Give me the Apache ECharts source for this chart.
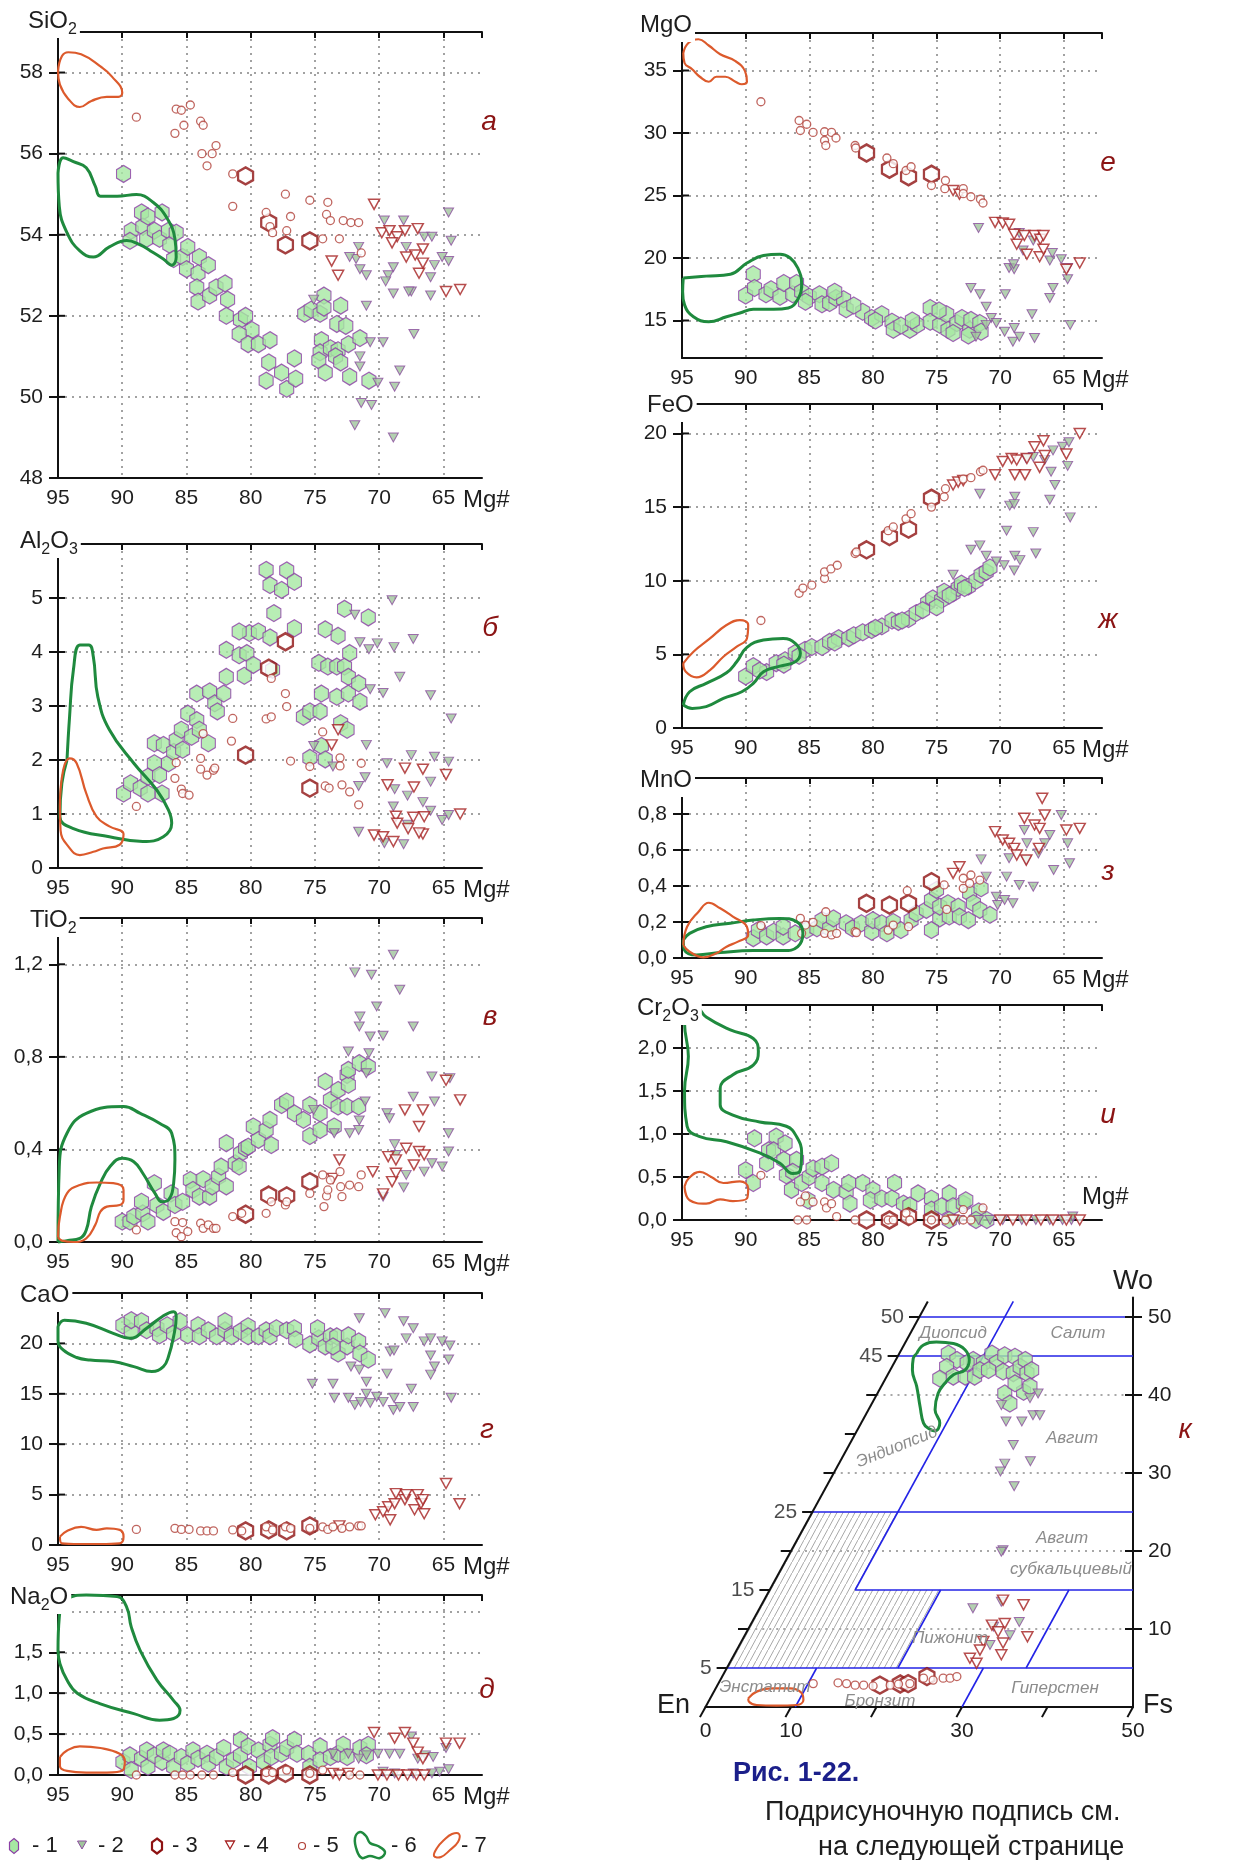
<!DOCTYPE html>
<html>
<head>
<meta charset="utf-8">
<script src="https://cdn.jsdelivr.net/npm/echarts@6/dist/echarts.min.js"></script>
<style>html,body{margin:0;padding:0;background:#fff}#c{width:1247px;height:1860px}</style>
</head>
<body>
<div id="c"></div>
<script>
// ---- Clinopyroxene compositions vs Mg#, groups 1-5, fields 6-7 ----
const sio2_1=[[89.9,55.5],[89.3,54.1],[89.4,53.85],[88.5,54.55],[88.4,54.2],[88.0,54.45],[88.1,53.9],[87.5,54.1],[86.9,54.55],[87.1,53.9],[86.4,54.1],[86.3,53.75],[85.8,54.05],[86.0,53.4],[85.3,53.45],[84.9,53.7],[85.0,53.15],[84.0,53.45],[84.1,53.05],[83.3,53.25],[84.2,52.7],[84.1,52.35],[83.2,52.5],[82.7,52.7],[82.0,52.8],[81.8,52.4],[81.9,52.0],[80.8,51.9],[80.4,52.0],[79.9,51.65],[80.9,51.55],[80.2,51.3],[79.4,51.3],[78.5,51.4],[78.6,50.85],[78.8,50.4],[77.6,50.6],[77.2,50.2],[76.6,50.95],[76.5,50.45],[75.8,52.05],[75.3,52.15],[74.6,52.05],[74.3,52.5],[74.3,52.2],[73.0,52.25],[73.3,51.8],[72.6,51.75],[74.5,51.4],[74.6,51.1],[73.8,51.2],[73.2,51.15],[72.4,51.3],[71.5,51.45],[74.7,50.9],[73.4,51.0],[73.0,50.85],[74.2,50.6],[72.3,50.5],[70.8,50.4]];
const sio2_2=[[69.6,54.35],[68.1,54.35],[67.9,53.7],[66.5,53.95],[65.9,53.95],[64.6,54.55],[64.4,53.85],[64.6,53.35],[65.1,53.45],[65.7,53.25],[66.0,52.95],[66.0,52.5],[67.5,52.6],[67.7,52.6],[68.9,52.55],[68.9,53.2],[69.3,53.0],[69.5,52.85],[71.6,53.7],[71.8,53.4],[72.3,53.45],[71.0,53.0],[71.5,53.15],[71.0,52.25],[67.3,51.55],[69.7,51.35],[70.7,51.35],[68.4,50.65],[68.8,50.25],[70.1,50.35],[71.5,51.0],[71.5,50.75],[71.4,49.85],[70.6,49.8],[71.9,49.3],[68.9,49.0],[75.1,52.4]];
const sio2_3=[[80.4,55.45],[78.6,54.3],[77.3,53.75],[75.4,53.85]];
const sio2_4=[[70.4,54.75],[69.8,54.05],[69.2,54.1],[68.6,53.95],[69.0,53.8],[68.0,54.1],[67.0,54.15],[66.6,53.65],[67.2,53.5],[67.9,53.45],[66.9,53.05],[66.6,53.3],[64.8,52.6],[63.7,52.65],[73.7,53.35],[73.2,53.0]];
const sio2_5=[[88.9,56.9],[85.8,57.1],[85.4,57.07],[84.7,57.2],[85.2,56.7],[85.9,56.5],[83.9,56.8],[83.7,56.7],[82.7,56.2],[83.0,56.0],[83.8,56.0],[83.4,55.7],[81.4,55.5],[81.4,54.7],[78.8,54.55],[78.5,54.2],[78.3,54.05],[77.3,55.0],[76.9,54.45],[77.2,54.1],[75.4,54.85],[74.0,54.8],[74.1,54.5],[73.8,54.35],[74.4,53.9],[72.8,54.35],[72.2,54.3],[71.6,54.3],[71.4,53.55],[73.1,53.9]];
const sio2_6=[[95.0,55.52],[94.6,55.9],[93.8,55.8],[92.8,55.65],[92.1,55.2],[91.7,54.95],[90.4,54.95],[88.9,54.99],[87.6,54.8],[86.5,54.4],[85.9,53.9],[85.8,53.45],[86.15,53.25],[86.8,53.4],[87.8,53.6],[88.6,53.75],[89.65,53.86],[91.0,53.7],[92.25,53.45],[93.3,53.6],[94.3,54.05],[94.9,54.7]];
const sio2_7=[[95.0,58.03],[94.7,58.4],[94.2,58.5],[93.2,58.45],[91.7,58.15],[90.8,57.9],[90.0,57.5],[90.3,57.4],[91.2,57.4],[92.4,57.3],[93.3,57.15],[94.2,57.35],[94.85,57.7]];

const al2o3_1=[[89.9,1.38],[89.35,1.57],[88.6,1.48],[88.0,1.69],[87.5,1.94],[87.5,2.31],[86.8,2.28],[87.1,1.72],[86.9,1.38],[88.0,1.38],[86.4,1.94],[86.0,2.15],[85.8,2.37],[85.4,2.56],[85.3,2.19],[84.9,2.86],[84.6,2.43],[84.2,2.74],[84.0,2.56],[84.2,3.23],[83.3,2.31],[83.2,3.27],[82.8,3.05],[82.6,2.9],[82.1,3.23],[81.9,3.54],[81.9,4.04],[80.9,3.94],[80.3,3.98],[80.5,3.56],[79.8,3.76],[80.1,4.35],[80.9,4.38],[79.4,4.38],[78.5,4.27],[78.3,3.67],[78.2,4.72],[78.8,5.52],[78.5,5.24],[77.6,5.15],[77.2,5.51],[76.6,5.3],[76.6,4.44],[75.9,2.8],[75.4,2.9],[74.6,2.9],[74.5,3.23],[74.7,3.8],[74.2,4.42],[74.0,3.73],[73.2,4.3],[73.3,3.73],[72.7,3.73],[73.3,3.17],[72.4,3.54],[72.3,3.98],[72.4,3.23],[71.6,3.42],[71.5,3.08],[72.7,4.8],[70.85,4.64],[73.0,2.68],[72.5,2.56],[74.5,2.26],[74.2,2.01],[75.4,2.04]];
const al2o3_2=[[69.0,4.96],[71.9,4.69],[71.5,4.18],[70.8,4.05],[70.15,4.16],[68.85,4.09],[67.35,4.24],[68.4,3.54],[70.7,3.31],[69.7,3.24],[66.0,3.2],[64.4,2.77],[71.0,2.28],[73.6,1.88],[71.1,1.68],[69.4,1.94],[67.5,2.09],[65.7,2.06],[64.6,1.97],[66.0,1.6],[67.8,1.34],[66.6,1.22],[66.0,1.06],[65.1,0.89],[64.6,0.98],[68.9,1.14],[68.8,1.46],[71.6,0.67],[69.6,0.46],[68.1,0.44],[67.8,0.8],[71.6,1.52],[75.1,2.26]];
const al2o3_3=[[78.6,3.7],[77.3,4.19],[80.4,2.09],[75.4,1.48]];
const al2o3_4=[[73.2,2.56],[73.7,2.28],[69.35,1.54],[68.0,1.85],[66.6,1.83],[64.8,1.73],[63.7,1.0],[67.3,1.5],[68.7,0.96],[68.6,0.83],[70.4,0.61],[69.7,0.58],[68.9,0.49],[67.35,0.94],[66.6,0.63],[66.5,0.95],[67.75,0.73],[66.9,0.65]];
const al2o3_5=[[88.9,1.14],[85.9,1.66],[85.8,1.95],[85.4,1.46],[85.3,1.38],[84.8,1.35],[83.9,2.03],[83.9,1.83],[83.4,1.72],[82.9,1.81],[82.8,1.85],[83.7,2.49],[81.4,2.77],[81.5,2.35],[78.8,2.76],[78.4,2.8],[78.4,3.51],[77.3,3.23],[77.2,2.99],[76.9,1.98],[75.4,1.88],[74.4,2.52],[74.2,1.52],[73.9,1.48],[73.05,2.04],[73.05,1.89],[72.9,1.54],[72.3,1.41],[71.4,1.94],[71.6,1.17]];
const al2o3_6=[[94.3,2.0],[94.1,2.8],[93.8,3.67],[93.3,4.13],[92.6,4.13],[92.25,3.91],[91.9,3.17],[91.0,2.56],[89.1,1.94],[87.3,1.44],[86.4,1.07],[86.15,0.83],[86.8,0.58],[88.4,0.49],[91.0,0.58],[93.8,0.73],[94.85,0.95],[94.7,1.57]];
const al2o3_7=[[94.85,1.14],[94.6,1.81],[94.1,2.03],[93.55,1.94],[92.8,1.38],[92.0,0.95],[91.0,0.77],[89.9,0.63],[90.2,0.43],[91.5,0.36],[92.25,0.3],[93.3,0.24],[94.2,0.4],[94.8,0.7]];

const tio2_1=[[90.0,0.088],[89.4,0.088],[89.1,0.11],[88.4,0.124],[88.5,0.174],[88.0,0.088],[87.5,0.254],[87.3,0.16],[86.8,0.13],[86.2,0.21],[85.9,0.16],[85.3,0.174],[84.7,0.268],[84.5,0.225],[84.0,0.196],[83.7,0.271],[83.2,0.196],[83.0,0.24],[82.5,0.283],[82.3,0.326],[81.9,0.24],[81.9,0.427],[81.2,0.34],[80.8,0.383],[80.9,0.326],[80.4,0.405],[80.2,0.412],[79.8,0.499],[79.4,0.441],[78.8,0.484],[78.5,0.528],[78.4,0.419],[77.6,0.592],[77.2,0.607],[76.6,0.556],[75.9,0.528],[75.4,0.458],[75.4,0.592],[74.6,0.556],[74.6,0.484],[74.2,0.693],[73.8,0.614],[73.2,0.657],[73.2,0.585],[72.5,0.722],[72.4,0.679],[72.4,0.744],[72.5,0.585],[71.55,0.773],[71.6,0.585],[70.85,0.758],[73.5,0.499]];
const tio2_2=[[68.9,1.241],[71.9,1.165],[70.6,1.155],[68.4,1.09],[70.2,1.018],[71.5,0.974],[71.55,0.931],[67.35,0.931],[70.7,0.888],[69.7,0.891],[70.8,0.816],[72.4,0.823],[71.0,0.729],[65.9,0.715],[64.5,0.708],[67.35,0.628],[65.7,0.607],[71.1,0.607],[71.55,0.525],[71.6,0.484],[72.3,0.47],[75.1,0.571],[73.5,0.47],[69.4,0.556],[69.2,0.535],[68.8,0.422],[64.6,0.47],[64.6,0.391],[65.9,0.34],[65.1,0.326],[66.5,0.304],[67.9,0.29],[68.1,0.236],[68.7,0.376],[69.7,0.196]];
const tio2_3=[[80.4,0.12],[78.6,0.203],[77.2,0.199],[75.4,0.261]];
const tio2_4=[[73.1,0.355],[73.6,0.275],[69.7,0.208],[70.5,0.304],[69.3,0.369],[68.7,0.355],[69.0,0.261],[67.9,0.405],[66.9,0.391],[66.5,0.376],[67.3,0.333],[68.0,0.571],[66.6,0.571],[66.9,0.499],[64.8,0.699],[63.7,0.614],[68.7,0.297]];
const tio2_5=[[88.9,0.052],[85.9,0.088],[85.8,0.04],[85.4,0.023],[85.3,0.084],[84.9,0.045],[83.9,0.081],[83.7,0.059],[83.3,0.074],[82.9,0.059],[82.7,0.059],[81.4,0.11],[80.7,0.124],[78.8,0.124],[78.4,0.174],[77.3,0.16],[77.2,0.174],[75.4,0.21],[74.4,0.29],[74.3,0.153],[74.1,0.199],[74.0,0.225],[73.8,0.268],[73.05,0.304],[73.0,0.239],[72.9,0.196],[72.3,0.246],[71.6,0.239],[71.4,0.29]];
const tio2_6=[[95.0,0.0],[94.9,0.326],[94.3,0.47],[92.8,0.556],[89.9,0.585],[88.6,0.556],[87.1,0.513],[86.15,0.47],[85.9,0.355],[86.0,0.254],[86.4,0.182],[86.9,0.174],[87.45,0.21],[88.4,0.297],[89.1,0.347],[90.0,0.362],[90.95,0.326],[91.7,0.254],[92.4,0.153],[92.8,0.052],[93.3,0.016],[94.3,0.006]];
const tio2_7=[[95.0,0.02],[94.85,0.11],[94.3,0.21],[93.3,0.246],[92.0,0.257],[90.7,0.254],[89.9,0.225],[89.9,0.182],[90.2,0.16],[91.2,0.153],[91.7,0.131],[92.1,0.074],[92.8,0.016],[93.8,0.0],[94.7,0.006]];

const cao_1=[[89.95,21.8],[89.3,21.2],[89.3,22.3],[88.5,22.2],[88.1,21.3],[87.3,21.5],[87.1,20.8],[86.5,21.8],[86.0,21.0],[85.5,22.2],[84.9,20.8],[84.1,21.8],[84.0,20.7],[83.3,21.3],[82.65,20.7],[82.0,21.3],[82.0,22.2],[81.5,20.7],[80.8,21.2],[80.2,21.7],[80.2,20.7],[79.4,20.7],[78.8,21.3],[78.5,20.7],[78.0,21.5],[77.2,21.3],[76.6,21.5],[76.5,20.4],[75.4,19.9],[74.7,20.5],[74.8,21.5],[74.2,19.7],[73.8,20.7],[73.3,20.7],[73.2,19.0],[72.5,19.7],[72.4,20.8],[71.6,20.2],[71.5,19.0],[70.85,18.4],[73.6,19.7]];
const cao_2=[[71.55,22.5],[69.55,23.0],[68.1,22.2],[67.35,21.5],[67.9,20.5],[69.15,19.2],[68.85,19.3],[66.5,20.2],[66.0,20.5],[66.0,18.8],[65.7,17.7],[66.0,16.9],[65.1,20.2],[64.5,19.8],[64.6,18.4],[64.4,14.6],[69.4,17.0],[72.2,17.7],[71.55,17.4],[71.0,16.2],[75.2,16.0],[73.6,16.0],[73.5,14.6],[72.4,14.6],[71.9,13.9],[71.45,14.2],[71.0,15.0],[70.7,14.1],[70.2,14.7],[69.7,14.2],[68.9,13.4],[68.85,14.6],[68.4,13.7],[67.5,15.5],[67.35,13.7]];
const cao_3=[[80.4,1.4],[78.6,1.5],[77.2,1.4],[75.4,1.9]];
const cao_4=[[70.3,3.0],[69.7,3.3],[69.15,2.5],[69.3,3.8],[68.7,5.1],[68.8,4.1],[68.0,4.5],[67.9,5.0],[67.0,5.0],[67.25,3.5],[66.75,4.1],[66.5,3.1],[66.6,4.5],[64.8,6.1],[63.75,4.1],[73.1,1.9]];
const cao_5=[[88.9,1.55],[85.9,1.65],[85.4,1.55],[84.8,1.55],[83.9,1.4],[83.4,1.4],[82.9,1.4],[81.4,1.5],[80.7,1.4],[78.8,1.8],[78.3,1.5],[77.3,1.8],[76.9,1.65],[75.4,1.65],[74.4,1.8],[74.0,1.55],[73.6,1.8],[72.9,1.65],[72.3,1.8],[71.6,1.9],[71.4,1.9]];
const cao_6=[[95.0,21.7],[94.5,22.3],[92.8,22.0],[90.7,21.0],[89.4,20.5],[88.1,21.5],[86.9,22.65],[86.0,23.15],[85.8,22.65],[86.0,20.7],[86.4,18.7],[86.8,17.7],[87.7,17.2],[89.1,17.7],[90.7,18.2],[92.5,18.35],[93.55,18.6],[94.6,19.35],[95.0,20.3]];
const cao_7=[[94.85,0.83],[94.3,1.4],[93.2,1.8],[92.0,1.5],[91.2,1.65],[90.2,1.5],[89.9,0.83],[90.2,0.17],[91.7,0.1],[93.3,0.1],[94.7,0.17]];

const na2o_1=[[89.95,0.16],[89.4,0.24],[89.3,0.06],[88.5,0.2],[88.1,0.3],[88.0,0.1],[87.5,0.24],[86.9,0.16],[86.8,0.3],[86.3,0.26],[86.0,0.1],[85.4,0.22],[84.9,0.14],[84.5,0.3],[84.1,0.2],[83.4,0.26],[83.3,0.14],[82.65,0.22],[82.1,0.33],[81.9,0.1],[81.35,0.18],[80.8,0.43],[80.8,0.24],[80.2,0.35],[80.1,0.1],[79.4,0.3],[79.0,0.16],[78.5,0.37],[78.3,0.45],[78.4,0.22],[77.6,0.26],[77.2,0.33],[76.6,0.43],[76.4,0.26],[75.5,0.26],[75.4,0.1],[74.6,0.35],[74.6,0.18],[73.8,0.22],[73.2,0.26],[72.8,0.37],[72.5,0.22],[71.5,0.33],[70.85,0.37],[71.0,0.24]];
const na2o_2=[[73.6,0.26],[72.4,0.26],[71.6,0.2],[71.0,0.24],[70.1,0.26],[69.2,0.26],[68.4,0.26],[67.5,0.47],[67.0,0.2],[66.4,0.24],[65.8,0.22],[64.8,0.33],[64.6,0.07],[65.3,0.04],[65.9,0.02],[69.7,0.04],[68.8,0.02],[67.35,0.02]];
const na2o_3=[[80.4,0.0],[78.6,0.0],[77.3,0.02],[75.4,0.0]];
const na2o_4=[[70.4,0.52],[68.8,0.45],[68.0,0.52],[67.35,0.39],[67.0,0.28],[66.6,0.2],[64.8,0.39],[63.75,0.39],[70.1,0.0],[69.4,0.0],[68.5,0.0],[67.8,0.0],[67.1,0.0],[66.5,0.0],[73.6,0.02],[73.1,0.0],[72.4,0.02]];
const na2o_5=[[88.9,0.0],[85.9,0.0],[85.3,0.0],[84.7,0.0],[83.8,0.0],[82.9,0.0],[81.4,0.03],[78.8,0.03],[78.3,0.03],[77.2,0.06],[75.4,0.02],[74.4,0.06],[72.3,0.0],[71.5,0.0]];
const na2o_6=[[95.0,1.52],[94.9,1.93],[94.3,2.15],[92.8,2.2],[90.4,2.18],[89.65,2.05],[89.3,1.81],[88.6,1.52],[87.3,1.16],[86.0,0.91],[85.5,0.79],[86.0,0.69],[87.1,0.67],[89.1,0.75],[91.7,0.87],[93.5,1.0],[94.3,1.16],[94.85,1.36]];
const na2o_7=[[94.85,0.22],[94.3,0.3],[93.3,0.35],[91.7,0.33],[90.2,0.26],[89.8,0.17],[89.95,0.06],[91.2,0.03],[92.8,0.03],[94.3,0.05],[94.85,0.11]];

const mgo_1=[[90.0,17.0],[89.4,18.7],[89.3,17.6],[88.4,17.1],[88.0,17.5],[87.3,16.9],[87.0,18.0],[86.3,17.1],[86.0,18.0],[85.6,17.3],[85.0,16.9],[84.2,17.1],[84.0,16.3],[83.4,16.4],[82.9,16.8],[82.3,16.7],[82.1,15.9],[80.8,15.7],[80.1,15.2],[79.3,15.5],[78.5,14.9],[78.4,14.25],[77.1,14.25],[76.5,14.65],[75.5,16.0],[75.5,14.9],[74.75,14.65],[74.2,15.5],[74.1,14.25],[73.4,14.8],[73.0,15.2],[72.4,14.25],[72.3,15.05],[71.6,14.8],[71.5,14.1],[72.5,13.8],[81.5,16.2],[83.0,17.3],[85.3,16.5],[79.8,15.0],[77.8,14.6],[76.9,15.0],[74.8,15.8],[73.7,14.0]];
const mgo_2=[[71.7,22.4],[69.6,17.1],[69.3,19.2],[68.9,19.1],[68.95,19.5],[72.3,17.6],[71.6,17.1],[71.1,16.1],[70.7,15.2],[70.3,14.8],[71.1,14.65],[71.9,13.7],[69.65,14.1],[68.9,14.4],[69.0,13.3],[68.5,13.7],[67.5,15.5],[67.3,13.6],[68.5,22.0],[67.4,21.4],[66.1,19.8],[65.9,20.4],[65.85,17.6],[66.1,16.8],[65.2,19.9],[64.7,19.2],[64.7,18.3],[64.5,14.65],[68.2,20.6]];
const mgo_3=[[80.5,28.4],[78.7,27.1],[77.2,26.5],[75.4,26.7]];
const mgo_4=[[73.7,25.4],[73.2,25.1],[70.4,22.85],[69.8,22.8],[69.3,22.7],[68.9,21.9],[68.7,21.1],[68.1,21.8],[67.9,20.3],[67.3,21.8],[66.85,21.5],[66.6,21.8],[66.9,20.1],[66.6,20.7],[64.8,19.1],[63.75,19.6]];
const mgo_5=[[88.8,32.5],[85.8,31.0],[85.7,30.2],[85.2,30.7],[84.7,30.05],[83.8,30.1],[83.8,29.4],[83.7,29.0],[83.25,30.05],[82.9,29.6],[81.4,29.0],[81.35,28.8],[78.9,28.0],[78.4,27.55],[77.4,27.0],[77.0,27.3],[75.4,25.8],[74.3,26.2],[74.35,25.55],[72.9,25.55],[72.9,25.15],[72.3,24.9],[71.55,24.7],[71.35,24.4]];
const mgo_6=[[94.9,18.4],[93.1,18.55],[91.2,18.7],[89.9,19.6],[88.6,20.2],[87.3,20.3],[86.5,20.0],[85.9,19.2],[85.6,17.9],[85.9,16.7],[86.65,16.0],[87.8,15.9],[89.4,15.9],[90.45,15.6],[91.5,15.3],[92.9,14.9],[94.1,15.3],[94.8,16.25],[94.95,17.3]];
const mgo_7=[[94.9,36.4],[94.5,37.2],[93.7,37.5],[92.9,37.0],[92.0,36.3],[90.8,35.75],[90.05,34.95],[89.9,34.1],[90.3,33.9],[90.8,34.1],[91.6,34.5],[92.3,34.5],[92.9,34.1],[93.6,34.5],[94.2,35.1],[94.8,35.6]];

const feo_1=[[90.0,3.5],[89.4,4.2],[88.35,3.8],[87.6,4.4],[86.9,4.6],[86.1,5.1],[85.35,5.3],[84.8,5.5],[84.0,5.5],[83.4,5.85],[82.7,6.1],[81.9,6.1],[81.5,6.3],[80.8,6.5],[80.1,6.65],[79.3,6.9],[78.5,7.3],[78.0,7.2],[77.2,7.4],[76.6,7.8],[75.7,8.5],[75.3,8.8],[74.6,8.7],[74.4,9.25],[73.7,9.15],[73.3,9.5],[73.05,9.8],[72.5,9.6],[71.9,10.0],[71.5,10.4],[71.1,10.6],[70.8,10.9],[75.0,8.2],[88.9,3.9],[87.0,4.3],[85.8,4.9],[83.0,5.8],[79.8,6.8],[77.7,7.3],[76.1,8.0],[74.0,9.0],[72.8,9.5]];
const feo_2=[[71.6,15.9],[69.5,13.4],[69.25,15.1],[68.85,15.7],[68.9,15.2],[67.4,13.3],[66.1,15.5],[65.7,16.5],[64.5,14.3],[64.7,17.8],[66.0,17.4],[65.85,18.85],[65.1,19.1],[64.6,19.4],[66.5,18.2],[67.4,18.4],[67.95,18.3],[67.2,11.85],[68.85,11.7],[68.45,11.4],[68.9,10.7],[69.7,11.05],[70.3,11.3],[72.3,12.1],[71.6,12.4],[71.1,11.7],[73.7,10.4]];
const feo_3=[[80.5,12.1],[78.7,13.0],[77.2,13.5],[75.4,15.6]];
const feo_4=[[73.7,16.5],[73.3,16.7],[72.9,16.8],[70.4,17.2],[69.8,18.1],[69.1,18.3],[68.7,18.2],[68.85,17.2],[68.05,17.2],[67.9,18.3],[67.3,19.1],[66.6,19.5],[66.9,17.7],[66.5,18.5],[64.8,18.6],[63.75,20.0]];
const feo_5=[[88.8,7.3],[85.8,9.15],[85.5,9.5],[84.8,9.7],[83.8,10.15],[83.8,10.6],[83.3,10.8],[82.8,11.05],[81.4,11.85],[81.3,11.95],[78.8,13.4],[78.4,13.65],[77.4,14.2],[77.0,14.55],[75.4,15.0],[74.3,16.25],[74.4,15.7],[72.9,16.9],[72.3,17.0],[71.55,17.4],[71.35,17.5]];
const feo_6=[[94.9,1.56],[94.4,2.46],[93.1,3.03],[91.5,3.75],[90.7,4.5],[89.9,5.47],[88.6,5.97],[87.05,6.08],[86.1,5.74],[85.7,5.07],[86.1,4.5],[87.3,4.2],[88.6,3.82],[89.4,3.03],[90.3,2.46],[91.75,2.01],[93.1,1.45],[94.2,1.33]];
const feo_7=[[94.9,4.39],[94.1,5.18],[92.8,6.08],[91.5,6.99],[90.45,7.33],[89.8,6.99],[89.9,6.08],[90.7,5.52],[91.75,4.84],[92.8,3.93],[93.85,3.44],[94.7,3.82]];

const mno_1=[[89.4,0.11],[89.0,0.155],[88.35,0.12],[87.8,0.146],[87.05,0.12],[87.05,0.174],[86.1,0.137],[85.2,0.155],[84.4,0.165],[84.0,0.21],[83.4,0.165],[83.1,0.22],[82.1,0.193],[81.6,0.165],[80.9,0.193],[80.1,0.146],[80.0,0.21],[79.3,0.193],[78.9,0.137],[78.4,0.2],[77.8,0.155],[77.0,0.21],[76.6,0.248],[75.8,0.267],[75.4,0.322],[74.75,0.22],[74.75,0.285],[74.1,0.304],[74.0,0.23],[73.3,0.285],[73.2,0.23],[72.5,0.21],[72.4,0.36],[72.1,0.304],[71.6,0.267],[70.8,0.24],[71.5,0.387],[75.4,0.155],[75.0,0.378]];
const mno_2=[[71.5,0.548],[71.1,0.452],[70.3,0.34],[70.2,0.294],[69.65,0.322],[69.0,0.304],[69.5,0.452],[69.3,0.554],[68.5,0.406],[68.1,0.711],[67.9,0.637],[67.4,0.396],[67.0,0.581],[66.5,0.637],[66.1,0.683],[65.8,0.489],[65.2,0.794],[64.7,0.637],[64.55,0.526],[67.95,0.544]];
const mno_3=[[80.5,0.304],[78.7,0.294],[77.2,0.304],[75.4,0.424]];
const mno_4=[[70.4,0.702],[69.8,0.656],[69.3,0.637],[68.9,0.609],[68.7,0.572],[68.1,0.776],[67.95,0.544],[67.3,0.739],[66.9,0.72],[66.7,0.887],[66.5,0.794],[66.95,0.609],[64.8,0.711],[63.75,0.72],[73.2,0.507],[73.7,0.47]];
const mno_5=[[88.8,0.18],[85.7,0.22],[85.6,0.137],[85.3,0.183],[84.7,0.198],[83.7,0.257],[83.8,0.137],[83.25,0.128],[82.85,0.137],[81.4,0.146],[81.3,0.141],[78.8,0.155],[78.4,0.183],[77.3,0.374],[77.2,0.174],[74.4,0.406],[74.2,0.27],[72.9,0.387],[72.9,0.443],[72.4,0.415],[72.3,0.461],[71.6,0.433]];
const mno_6=[[94.9,0.1],[94.4,0.137],[93.1,0.174],[91.2,0.193],[89.4,0.211],[87.3,0.22],[86.0,0.202],[85.5,0.137],[85.9,0.063],[87.05,0.041],[89.4,0.041],[92.0,0.03],[93.85,0.017],[94.8,0.044]];
const mno_7=[[94.9,0.072],[94.6,0.174],[93.7,0.257],[92.9,0.307],[92.0,0.276],[91.0,0.23],[89.9,0.174],[89.8,0.128],[90.6,0.091],[91.5,0.063],[92.3,0.026],[93.3,0.004],[94.4,0.035]];

const cr2o3_1=[[90.0,0.58],[89.3,0.95],[89.4,0.43],[88.35,0.66],[88.2,0.81],[87.6,0.97],[87.8,0.81],[87.0,0.7],[86.9,0.89],[86.8,0.52],[86.0,0.7],[86.3,0.56],[86.4,0.35],[85.6,0.43],[85.1,0.23],[85.0,0.5],[84.7,0.6],[84.0,0.62],[84.0,0.43],[83.25,0.66],[83.1,0.35],[82.1,0.33],[81.9,0.43],[81.8,0.19],[80.8,0.43],[80.0,0.35],[80.2,0.23],[79.3,0.25],[78.5,0.25],[78.3,0.43],[77.6,0.19],[77.1,0.17],[76.45,0.31],[75.4,0.25],[75.4,0.12],[74.6,0.16],[74.0,0.31],[73.7,0.16],[72.9,0.19],[72.7,0.23],[71.7,0.1],[71.9,0.0],[71.05,0.0],[74.0,0.0]];
const cr2o3_2=[[73.2,0.0],[71.7,0.0],[70.8,0.0],[69.8,0.0],[68.3,0.0],[67.2,0.0],[66.1,0.0],[65.1,0.0],[64.4,0.0],[64.3,0.04]];
const cr2o3_3=[[80.5,0.0],[78.7,0.0],[77.2,0.04],[75.4,0.0]];
const cr2o3_4=[[73.7,0.0],[70.0,0.0],[69.0,0.0],[67.95,0.0],[66.8,0.0],[65.85,0.0],[64.8,0.0],[63.75,0.0]];
const cr2o3_5=[[88.8,0.52],[85.7,0.21],[85.3,0.28],[84.7,0.21],[85.9,0.0],[85.2,0.0],[83.8,0.21],[83.65,0.14],[83.25,0.19],[82.85,0.04],[81.4,0.0],[78.8,0.0],[78.4,0.0],[77.4,0.08],[77.1,0.0],[75.4,0.0],[74.3,0.0],[72.9,0.12],[72.9,0.0],[72.3,0.0],[71.35,0.14]];
const cr2o3_6=[[94.6,2.44],[94.0,2.49],[93.1,2.36],[91.2,2.21],[89.4,2.11],[89.0,1.96],[89.4,1.8],[91.0,1.69],[92.0,1.53],[92.0,1.34],[91.0,1.22],[88.9,1.14],[86.8,1.09],[86.0,0.97],[85.6,0.78],[85.7,0.58],[86.3,0.54],[87.3,0.66],[88.9,0.78],[91.5,0.91],[93.6,0.97],[94.6,1.09],[94.8,1.51],[94.5,1.9],[94.8,2.29]];
const cr2o3_7=[[94.8,0.39],[94.5,0.48],[93.6,0.56],[92.7,0.5],[91.75,0.43],[90.45,0.45],[89.8,0.37],[89.9,0.25],[91.0,0.22],[92.0,0.24],[93.1,0.19],[94.4,0.23]];

// ---- Wo-En-Fs quadrilateral: points as [Fs, Wo] ----
const tern_1=[[5.75,45.3],[7.15,44.5],[6.4,43.6],[6.35,42.1],[7.8,42.35],[9.2,42.35],[9.05,44.5],[10.3,42.35],[10.45,44.1],[10.85,45.3],[12.0,44.1],[12.45,45.1],[13.3,43.0],[14.6,42.8],[13.75,44.9],[15.0,43.6],[15.15,44.5],[16.2,42.8],[17.0,40.4],[14.9,40.2],[16.15,38.9],[16.55,43.2],[8.55,44.1],[10.5,43.2],[11.5,43.2],[15.45,41.5],[17.4,41.1]];
const tern_2=[[15.25,38.7],[16.85,36.6],[18.7,36.6],[19.6,37.4],[20.4,37.4],[18.8,40.2],[18.15,39.6],[19.2,33.6],[19.4,31.2],[19.4,30.2],[21.95,28.3],[22.25,31.5],[24.75,20.1],[24.65,19.9],[24.95,12.65],[27.85,13.5],[31.25,10.9],[31.0,9.2],[28.55,10.3],[29.3,7.95]];
const tern_3=[[19.0,2.8],[21.3,2.95],[22.2,3.0],[23.95,3.9]];
const tern_4=[[30.65,13.1],[27.95,13.7],[29.65,10.7],[33.15,9.0],[28.25,10.5],[29.4,9.65],[28.3,8.4],[28.45,7.3],[27.8,6.25],[28.9,5.6],[31.25,6.7],[30.7,8.2]];
const tern_5=[[11.1,3.0],[13.95,3.1],[15.0,3.0],[16.1,2.8],[17.1,2.8],[18.25,2.7],[20.2,2.8],[21.1,2.95],[22.4,3.0],[23.65,3.7],[24.9,3.45],[25.95,3.7],[26.75,3.7],[27.45,3.9]];
const tern_6=[[2.05,45.3],[2.3,46.4],[3.6,46.8],[5.7,46.6],[7.45,45.8],[8.6,44.5],[8.75,43.2],[7.7,42.6],[7.25,41.5],[7.1,40.2],[7.8,38.1],[9.2,36.4],[9.15,35.4],[8.25,35.7],[7.3,36.4],[5.85,38.5],[4.15,41.1],[2.6,43.2],[1.95,44.7]];
const tern_7=[[4.45,1.1],[5.0,1.97],[6.75,2.4],[8.7,2.4],[10.3,1.84],[11.0,0.9],[10.55,0.26],[8.2,0.17],[5.85,0.26],[4.75,0.68]];
// field boundaries [Fs1, Wo1, Fs2, Wo2]
const ternBlue=[[0,50,25,50],[0,45,27.5,45],[0,25,37.5,25],[10,15,42.5,15],[0,5,47.5,5],[10,15,10,52],[20,5,20,15],[35,5,35,15],[10.5,0,10.5,5],[30,0,30,5]];
const ternHatch=[[0,5],[0,25],[10,25],[10,15],[20,15],[20,5]];
const ternGridWo=[10,20,30,40];
const ternEdgeTicks=[5,10,15,20,25,30,35,40,45,50];
const ternEdgeLabels=[5,15,25,45,50];
const ternFsTicks=[0,10,20,30,40,50];
const ternFsLabels=[0,10,30,50];
const ternWoTicks=[10,20,30,40,50];

// ---- drawing ----
const FONT='"Liberation Sans", Arial, Helvetica, sans-serif';
const INK='#1e1e1e';
const DOTS={color:'#a2a2a2',type:[2,5],width:2};
const HEX='path://M0,-10L8.66,-5L8.66,5L0,10L-8.66,5L-8.66,-5Z';
const MARK=[
  {symbol:HEX,symbolSize:[14,17],itemStyle:{color:'#a6e8a2',borderColor:'#8c3fa6',borderWidth:1.2}},
  {symbol:'triangle',symbolRotate:180,symbolSize:[10,9],itemStyle:{color:'#a0c49c',borderColor:'#8a4c9e',borderWidth:1}},
  {symbol:HEX,symbolSize:[15,17],itemStyle:{color:'#ffffff',borderColor:'#8e1212',borderWidth:2.4}},
  {symbol:'triangle',symbolRotate:180,symbolSize:[11,10],itemStyle:{color:'#ffffff',borderColor:'#a52020',borderWidth:1.5}},
  {symbol:'circle',symbolSize:8,itemStyle:{color:'#ffffff',borderColor:'#b04038',borderWidth:1.3}}
];
const GREEN='#1f8a3e', ORANGE='#dc5a2c';

const PANELS=[
  {sets:[sio2_1,sio2_2,sio2_3,sio2_4,sio2_5,sio2_6,sio2_7],box:[58,32,424,446],y:[48,59,2,0],title:'{m|SiO}{s|2}',tp:[26,21],letter:'а',lp:[489,122]},
  {sets:[al2o3_1,al2o3_2,al2o3_3,al2o3_4,al2o3_5,al2o3_6,al2o3_7],box:[58,544,424,324],y:[0,6,1,0],title:'{m|Al}{s|2}{m|O}{s|3}',tp:[18,541],letter:'б',lp:[490,628]},
  {sets:[tio2_1,tio2_2,tio2_3,tio2_4,tio2_5,tio2_6,tio2_7],box:[58,918,424,324],y:[0,1.4,0.4,1],title:'{m|TiO}{s|2}',tp:[28,920],letter:'в',lp:[490,1017]},
  {sets:[cao_1,cao_2,cao_3,cao_4,cao_5,cao_6,cao_7],box:[58,1293,424,252],y:[0,25,5,0],title:'{m|CaO}',tp:[18,1295],letter:'г',lp:[487,1430]},
  {sets:[na2o_1,na2o_2,na2o_3,na2o_4,na2o_5,na2o_6,na2o_7],box:[58,1595,424,180],y:[0,2.2,0.5,1],title:'{m|Na}{s|2}{m|O}',tp:[8,1597],letter:'д',lp:[487,1690],labelTop:1.5},
  {sets:[mgo_1,mgo_2,mgo_3,mgo_4,mgo_5,mgo_6,mgo_7],box:[682,33,420,325],y:[12,38,5,0],title:'{m|MgO}',tp:[638,25],letter:'е',lp:[1108,163],hideMin:true},
  {sets:[feo_1,feo_2,feo_3,feo_4,feo_5,feo_6,feo_7],box:[682,404,420,324],y:[0,22,5,0],title:'{m|FeO}',tp:[645,405],letter:'ж',lp:[1108,620]},
  {sets:[mno_1,mno_2,mno_3,mno_4,mno_5,mno_6,mno_7],box:[682,778,420,180],y:[0,1,0.2,1],title:'{m|MnO}',tp:[638,780],letter:'з',lp:[1108,872]},
  {sets:[cr2o3_1,cr2o3_2,cr2o3_3,cr2o3_4,cr2o3_5,cr2o3_6,cr2o3_7],box:[682,1005,420,215],y:[0,2.5,0.5,1],title:'{m|Cr}{s|2}{m|O}{s|3}',tp:[635,1008],letter:'и',lp:[1108,1115],mgPos:[1082,1197]}
];

const option={animation:false,textStyle:{fontFamily:FONT},grid:[],xAxis:[],yAxis:[],series:[]};
const gfx=[];
const AXLINE={show:true,onZero:false,lineStyle:{color:'#111',width:2}};
const closed=pts=>pts.concat([pts[0]]);

// short tick marks pointing into a plot from an axis (value axis ticks only go one way)
function innerTicks(xi,yi,pts,dx){
  return {type:'custom',xAxisIndex:xi,yAxisIndex:yi,clip:false,silent:true,z:3,data:pts,encode:{x:0,y:1},
    renderItem:(params,api)=>{
      const a=api.coord([api.value(0),api.value(1)]);
      return {type:'line',shape:{x1:a[0],y1:a[1],x2:a[0]+dx,y2:a[1]},style:{stroke:'#111',lineWidth:2,fill:null}};
    }};
}

PANELS.forEach((p,i)=>{
  const [l,t,w,h]=p.box;
  option.grid.push({left:l,top:t,width:w,height:h,outerBoundsMode:'none'});
  const xi=option.xAxis.length, yi=option.yAxis.length;
  option.xAxis.push(
    {gridIndex:i,type:'value',min:62,max:95,inverse:true,minInterval:5,maxInterval:5,axisLine:AXLINE,axisTick:{show:false},
     axisLabel:{margin:10,fontSize:21,color:INK,fontFamily:FONT,showMinLabel:false,showMaxLabel:true},
     splitLine:{show:true,showMinLine:false,showMaxLine:false,lineStyle:DOTS}},
    {gridIndex:i,type:'value',position:'top',min:62,max:95,inverse:true,minInterval:5,maxInterval:5,axisLine:AXLINE,
     axisTick:{show:true,inside:true,length:6,lineStyle:{color:'#111',width:2}},axisLabel:{show:false},splitLine:{show:false}}
  );
  const [ymin,ymax,step,dec]=p.y;
  const fmt=v=>(p.labelTop!=null&&v>p.labelTop+1e-9)?'':(dec?v.toFixed(dec).replace('.',','):String(Math.round(v)));
  option.yAxis.push(
    {gridIndex:i,type:'value',min:ymin,max:ymax,minInterval:step,maxInterval:step,axisLine:AXLINE,
     axisTick:{show:true,length:9,lineStyle:{color:'#111',width:2}},
     axisLabel:{margin:15,fontSize:21,color:INK,fontFamily:FONT,formatter:fmt,showMinLabel:!p.hideMin,showMaxLabel:false},
     splitLine:{show:true,showMinLine:false,showMaxLine:false,lineStyle:DOTS}}
  );
  const tickVals=[];
  for(let k=Math.ceil(ymin/step-1e-9);k*step<=ymax+1e-9;k++){const v=+(k*step).toFixed(4);if(v>ymin)tickVals.push([95,v]);}
  option.series.push(innerTicks(xi,yi,tickVals,7));
  p.sets.slice(0,5).forEach((arr,k)=>{
    option.series.push(Object.assign({type:'scatter',xAxisIndex:xi,yAxisIndex:yi,data:arr,clip:false,silent:true,z:2},MARK[k]));
  });
  [[p.sets[5],GREEN,3],[p.sets[6],ORANGE,2.2]].forEach(([arr,c,wd])=>{
    option.series.push({type:'line',xAxisIndex:xi,yAxisIndex:yi,data:closed(arr),smooth:0.45,symbol:'none',clip:false,silent:true,z:3,lineStyle:{color:c,width:wd}});
  });
  gfx.push({type:'text',x:p.tp[0],y:p.tp[1],z:50,style:{text:p.title,align:'left',verticalAlign:'middle',backgroundColor:'#fff',padding:[0,3,0,2],
    rich:{m:{fontSize:24,lineHeight:34,fontFamily:FONT,fill:INK},s:{fontSize:16,lineHeight:8,verticalAlign:'bottom',fontFamily:FONT,fill:INK}}}});
  gfx.push({type:'text',x:p.lp[0],y:p.lp[1],z:50,style:{text:p.letter,fontSize:28,fontStyle:'italic',fontFamily:FONT,fill:'#8b1414',align:'center',verticalAlign:'middle'}});
  const mg=p.mgPos||[l<300?463:1082,t+h+22];
  gfx.push({type:'text',x:mg[0],y:mg[1],z:50,style:{text:'Mg#',fontSize:24,fontFamily:FONT,fill:INK,align:'left',verticalAlign:'middle'}});
});

// ---- quadrilateral Wo-En-Fs ----
const tern=p=>[p[0]+p[1]/2,p[1]];
const TG=option.grid.length;
option.grid.push({left:705.5,top:1297.5,width:427.5,height:409.5,outerBoundsMode:'none'});
const TX=option.xAxis.length, TY=option.yAxis.length;
option.xAxis.push({gridIndex:TG,type:'value',min:0,max:50,interval:10,axisLine:AXLINE,axisTick:{show:false},
  axisLabel:{margin:14,fontSize:21,color:INK,fontFamily:FONT,formatter:v=>ternFsLabels.indexOf(v)>=0?String(v):''},splitLine:{show:false}});
option.yAxis.push(
  {gridIndex:TG,type:'value',position:'right',min:0,max:52.5,interval:10,axisLine:AXLINE,axisTick:{show:true,length:9,lineStyle:{color:'#111',width:2}},
   axisLabel:{margin:15,fontSize:21,color:INK,fontFamily:FONT,showMinLabel:false,showMaxLabel:false},splitLine:{show:false}}
);
option.series.push(innerTicks(TX,TY,ternWoTicks.map(w=>[50,w]),-8));
function segSeries(segs,style,z){
  return {type:'custom',xAxisIndex:TX,yAxisIndex:TY,clip:false,silent:true,z:z,
    data:segs.map(s=>{const a=tern([s[0],s[1]]),b=tern([s[2],s[3]]);return [a[0],a[1],b[0],b[1]];}),
    encode:{x:[0,2],y:[1,3]},
    renderItem:(params,api)=>{
      const a=api.coord([api.value(0),api.value(1)]),b=api.coord([api.value(2),api.value(3)]);
      return {type:'line',shape:{x1:a[0],y1:a[1],x2:b[0],y2:b[1]},style:Object.assign({fill:null},style)};
    }};
}
// diagonal hatch tile parallel to the En-Wo side
const hatch=document.createElement('canvas');
hatch.width=6;hatch.height=11;
(function(){const c=hatch.getContext('2d');c.strokeStyle='#9e9e9e';c.lineWidth=0.9;c.beginPath();c.moveTo(-1,11+11/6);c.lineTo(7,-11/6);c.stroke();})();
option.series.push({type:'custom',xAxisIndex:TX,yAxisIndex:TY,clip:false,silent:true,z:1,data:[[0,0]],
  renderItem:(params,api)=>({type:'polygon',shape:{points:ternHatch.map(p=>api.coord(tern(p)))},style:{fill:{image:hatch,repeat:'repeat'},stroke:null}})});
option.series.push(segSeries(ternGridWo.map(w=>[0,w,50-w/2,w]),{stroke:'#a8a8a8',lineWidth:2,lineDash:[2,5]},1));
option.series.push(segSeries(ternBlue,{stroke:'#2323e6',lineWidth:1.6},2));
option.series.push(segSeries([[0,0,0,52]].concat(ternEdgeTicks.map(w=>[0,w,-1.2,w])).concat(ternFsTicks.map(f=>[f,0,f,-1.3])),{stroke:'#111',lineWidth:2},3));
[tern_1,tern_2,tern_3,tern_4,tern_5].forEach((arr,k)=>{
  option.series.push(Object.assign({type:'scatter',xAxisIndex:TX,yAxisIndex:TY,data:arr.map(tern),clip:false,silent:true,z:4},MARK[k]));
});
[[tern_6,GREEN,3],[tern_7,ORANGE,2.2]].forEach(([arr,c,wd])=>{
  option.series.push({type:'line',xAxisIndex:TX,yAxisIndex:TY,data:closed(arr).map(tern),smooth:0.45,symbol:'none',clip:false,silent:true,z:5,lineStyle:{color:c,width:wd}});
});
option.series.push({type:'scatter',xAxisIndex:TX,yAxisIndex:TY,symbolSize:0,silent:true,clip:false,z:5,
  data:ternEdgeLabels.map(w=>({value:tern([-1.2,w]),label:{formatter:String(w)}})),
  label:{show:true,position:'left',distance:5,fontSize:21,color:INK,fontFamily:FONT}});

const fieldTxt=(t,x,y,rot)=>({type:'text',x:x,y:y,rotation:rot||0,z:40,style:{text:t,fontSize:17,fontStyle:'italic',fontFamily:FONT,fill:'#8c8c8c',align:'center',verticalAlign:'middle'}});
gfx.push(
  fieldTxt('Диопсид',953,1333),fieldTxt('Салит',1078,1333),fieldTxt('Эндиопсид',897,1447,0.38),
  fieldTxt('Авгит',1072,1438),fieldTxt('Авгит',1062,1538),fieldTxt('субкальциевый',1071,1569),
  fieldTxt('Пижонит',950,1638),fieldTxt('Энстатит',765,1687),fieldTxt('Бронзит',880,1701),fieldTxt('Гиперстен',1055,1688)
);
const plain=(t,x,y,size,align,extra)=>({type:'text',x:x,y:y,z:50,style:Object.assign({text:t,fontSize:size,fontFamily:FONT,fill:INK,align:align||'left',verticalAlign:'middle'},extra||{})});
gfx.push(plain('Wo',1133,1282,27,'center'),plain('Fs',1143,1706,27),plain('En',690,1706,27,'right'));
gfx.push(plain('к',1185,1430,28,'center',{fontStyle:'italic',fill:'#8b1414'}));

// ---- legend ----
const LY=1846;
const hexPts=(cx,cy,w,h)=>[[cx,cy-h/2],[cx+w/2,cy-h/4],[cx+w/2,cy+h/4],[cx,cy+h/2],[cx-w/2,cy+h/4],[cx-w/2,cy-h/4]];
const triPts=(cx,cy,w,h)=>[[cx-w/2,cy-h/2],[cx+w/2,cy-h/2],[cx,cy+h/2]];
gfx.push(
  {type:'polygon',z:50,shape:{points:hexPts(14,LY,9,15)},style:{fill:'#a6e8a2',stroke:'#8c3fa6',lineWidth:1.2}},
  plain('- 1',32,LY,22),
  {type:'polygon',z:50,shape:{points:triPts(82,LY-1,9,8)},style:{fill:'#a0c49c',stroke:'#8a4c9e',lineWidth:1}},
  plain('- 2',98,LY,22),
  {type:'polygon',z:50,shape:{points:hexPts(157,LY,10,15)},style:{fill:'#fff',stroke:'#8e1212',lineWidth:2.2}},
  plain('- 3',172,LY,22),
  {type:'polygon',z:50,shape:{points:triPts(230,LY-1,9,8)},style:{fill:'#fff',stroke:'#a52020',lineWidth:1.3}},
  plain('- 4',243,LY,22),
  {type:'circle',z:50,shape:{cx:302,cy:LY,r:3.5},style:{fill:'#fff',stroke:'#b04038',lineWidth:1.2}},
  plain('- 5',313,LY,22),
  {type:'polygon',z:50,shape:{points:[[355,1838],[360,1832],[366,1836],[370,1843],[378,1846],[385,1852],[380,1858],[370,1856],[362,1858],[357,1851]],smooth:0.4},style:{fill:null,stroke:GREEN,lineWidth:2.5}},
  plain('- 6',391,LY,22),
  {type:'polygon',z:50,shape:{points:[[434,1856],[437,1848],[444,1840],[452,1834],[459,1834],[458,1842],[450,1850],[441,1857]],smooth:0.4},style:{fill:null,stroke:ORANGE,lineWidth:2}},
  plain('- 7',461,LY,22)
);

// ---- caption ----
gfx.push(
  plain('Рис. 1-22.',733,1774,27,'left',{fontWeight:'bold',fill:'#1b1f8a'}),
  plain('Подрисуночную подпись см.',765,1813,27),
  plain('на следующей странице',818,1848,27)
);

option.graphic={elements:gfx};
const chart=echarts.init(document.getElementById('c'),null,{renderer:'canvas',width:1247,height:1860});
chart.setOption(option);
</script>
</body>
</html>
